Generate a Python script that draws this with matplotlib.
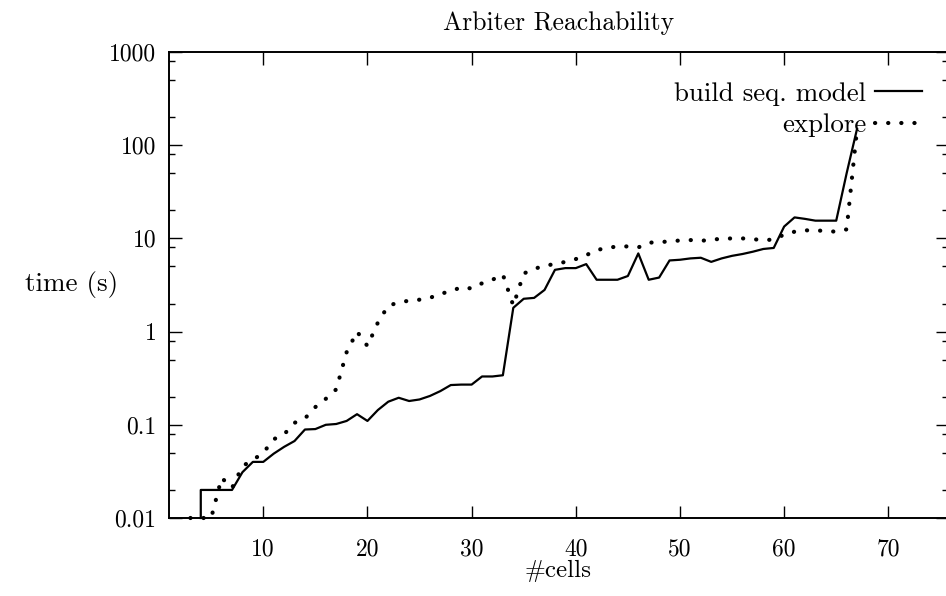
import matplotlib
matplotlib.use("Agg")
import matplotlib.pyplot as plt
from matplotlib.ticker import FixedLocator, FixedFormatter, NullFormatter

plt.rcParams['font.family'] = ['cmr10', 'DejaVu Serif']
plt.rcParams['mathtext.fontset'] = 'cm'
plt.rcParams['axes.formatter.use_mathtext'] = True

# ---- data ----
build_cells = [4] + list(range(4, 68))
build_time = [0.01, 0.02, 0.02, 0.02, 0.02, 0.031, 0.04, 0.04, 0.049, 0.058, 0.067,
              0.089, 0.09, 0.1, 0.102, 0.11, 0.13, 0.11, 0.144, 0.177, 0.195,
              0.18, 0.187, 0.204, 0.23, 0.267, 0.27, 0.27, 0.33, 0.33, 0.34,
              1.8, 2.25, 2.3, 2.8, 4.6, 4.8, 4.8, 5.3, 3.6, 3.6, 3.6, 3.95,
              6.9, 3.6, 3.8, 5.8, 5.9, 6.1, 6.2, 5.6, 6.1, 6.5, 6.8, 7.2, 7.7,
              7.9, 13.4, 16.8, 16.2, 15.5, 15.5, 15.5, 50, 150]

explore_cells = list(range(3, 68))
explore_time = [0.01, 0.01, 0.01, 0.027, 0.021, 0.036, 0.042, 0.05, 0.07, 0.079,
                0.105, 0.117, 0.155, 0.19, 0.24, 0.6, 1.0, 0.7, 1.25, 1.9,
                2.05, 2.15, 2.2, 2.3, 2.55, 2.7, 3.0, 2.9, 3.3, 3.6, 4.1, 1.9,
                4.2, 4.7, 5.1, 5.3, 5.6, 6.0, 6.6, 7.5, 7.9, 8.2, 8.2, 8.0,
                9.0, 9.1, 9.3, 9.5, 9.6, 9.4, 9.7, 9.9, 10.0, 10.0, 9.8, 9.6,
                9.7, 11.0, 11.8, 12.2, 12.2, 12.0, 11.8, 12.5, 150]

x_ticks = [10, 20, 30, 40, 50, 60, 70]
x_tick_labels = ['10', '20', '30', '40', '50', '60', '70']
y_ticks = [0.01, 0.1, 1, 10, 100, 1000]
y_tick_labels = ['0.01', '0.1', '1', '10', '100', '1000']
y_minor = [m * 10.0 ** e for e in range(-2, 3) for m in (2, 5, 8)]

title = 'Arbiter Reachability'
xlabel = '#cells'
ylabel = 'time (s)'
series_labels = ['build seq. model', 'explore']

# ---- figure ----
W, H = 946, 596
fig = plt.figure(figsize=(W / 100, H / 100), dpi=100)
ax = fig.add_axes([169 / W, (H - 518) / H, (948 - 169) / W, 466 / H])

FS = 17
l1, = ax.plot(build_cells, build_time, color='black', lw=1.6, clip_on=False,
              solid_joinstyle='round')
l2, = ax.plot(explore_cells, explore_time, color='black', lw=3.0,
              linestyle=(0, (0.05, 3.1)), dash_capstyle='round', clip_on=False)

ax.set_yscale('log')
ax.set_xlim(0.95, 75.73)
ax.set_ylim(0.01, 1000)

ax.xaxis.set_major_locator(FixedLocator(x_ticks))
ax.xaxis.set_major_formatter(FixedFormatter(x_tick_labels))
ax.xaxis.set_minor_locator(FixedLocator([]))
ax.yaxis.set_major_locator(FixedLocator(y_ticks))
ax.yaxis.set_major_formatter(FixedFormatter(y_tick_labels))
ax.yaxis.set_minor_locator(FixedLocator(y_minor))
ax.yaxis.set_minor_formatter(NullFormatter())

ax.tick_params(which='major', direction='in', length=9, width=1.0,
               top=True, right=True, labelsize=FS, color='black')
ax.tick_params(axis='x', which='major', pad=15)
ax.tick_params(axis='y', which='major', pad=9)
ax.tick_params(which='minor', direction='in', length=4.5, width=1.0,
               right=True, left=True)

for s in ax.spines.values():
    s.set_linewidth(1.4)

ax.set_title(title, fontsize=18.5, pad=15.8)
ax.set_xlabel(xlabel, fontsize=18, labelpad=-1)
ax.set_ylabel(ylabel, fontsize=19.5, rotation=0, ha='right', va='center')
ax.yaxis.set_label_coords((118 - 169) / 779, (518 - 285) / 466)

LFS = 19.4
leg = ax.legend([l1, l2], series_labels, markerfirst=False, frameon=False,
                fontsize=LFS, loc='upper right',
                bbox_to_anchor=(922 / W, (H - 82) / H),
                bbox_transform=fig.transFigure, borderaxespad=0, borderpad=0,
                handlelength=1.74, handletextpad=0.33, labelspacing=0.27)

fig.savefig('out.png', dpi=100)
